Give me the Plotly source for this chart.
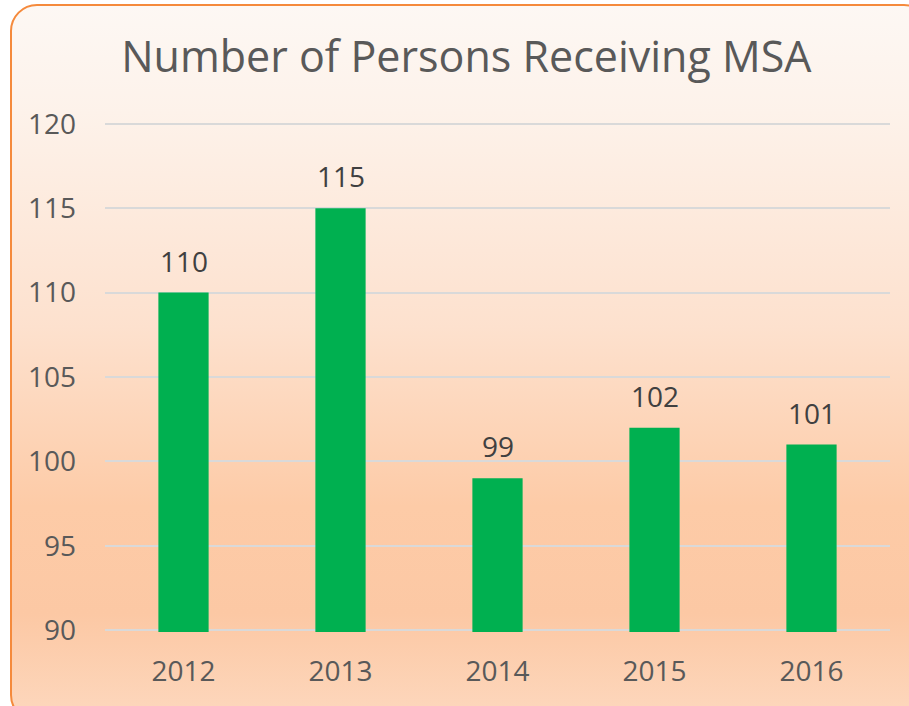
# Bar chart: Number of Persons Receiving MSA
import urllib.parse
import plotly.graph_objects as go

years = ["2012", "2013", "2014", "2015", "2016"]
persons = [110, 115, 99, 102, 101]
y_ticks = [90, 95, 100, 105, 110, 115, 120]

W, H = 909, 706
ml, mr, mt, mb = 105, 19, 122, 74
pw, ph = W - ml - mr, H - mt - mb

# rounded card with orange border and peach gradient, drawn as an inline svg
bg_svg = f"""<svg xmlns='http://www.w3.org/2000/svg' width='{W}' height='{H}' viewBox='0 0 {W} {H}'>
<defs><linearGradient id='g' x1='0' y1='0' x2='0' y2='1'>
<stop offset='0' stop-color='#FDF8F4'/>
<stop offset='0.15' stop-color='#FDF2EA'/>
<stop offset='0.45' stop-color='#FDE1CE'/>
<stop offset='0.7' stop-color='#FDCBA7'/>
<stop offset='0.85' stop-color='#FCC8A4'/>
<stop offset='1' stop-color='#FDD8BE'/>
</linearGradient></defs>
<rect x='11' y='5' width='{W + 10}' height='{H + 10}' rx='26' ry='26' fill='url(#g)' stroke='#F58A3C' stroke-width='2'/>
</svg>"""
bg_src = "data:image/svg+xml;charset=utf-8," + urllib.parse.quote(bg_svg)

fig = go.Figure()

fig.add_trace(go.Bar(
    x=years, y=persons,
    marker=dict(color="#00B050", line=dict(width=0)),
    width=0.32,
    hoverinfo="x+y",
))

# value labels above the bars (x given as category index: "2012" would be read as index 2012)
for i, v in enumerate(persons):
    fig.add_annotation(
        x=i, y=v, text=str(v), showarrow=False,
        yanchor="bottom", yshift=11,
        font=dict(family="Open Sans", size=28, color="#404040"),
    )

fig.add_layout_image(
    source=bg_src, xref="paper", yref="paper",
    x=-ml / pw, y=1 + mt / ph, sizex=W / pw, sizey=H / ph,
    xanchor="left", yanchor="top", sizing="stretch", layer="below",
)

fig.update_layout(
    width=W, height=H,
    margin=dict(l=ml, r=mr, t=mt, b=mb),
    paper_bgcolor="white",
    plot_bgcolor="rgba(0,0,0,0)",
    showlegend=False,
    title=dict(
        text="Number of Persons Receiving MSA",
        x=0.513, xref="container", xanchor="center",
        y=1 - 57 / H, yref="container", yanchor="middle",
        font=dict(family="Open Sans", size=43, color="#595959"),
    ),
    xaxis=dict(
        type="category", range=[-0.5, len(years) - 0.5],
        showgrid=False, showline=False, zeroline=False, ticks="",
        tickfont=dict(family="Open Sans", size=28, color="#595959"),
        ticklabelstandoff=20,
    ),
    yaxis=dict(
        range=[89.9, 120.1], tickvals=y_ticks,
        showgrid=True, gridcolor="#D9D9D9", gridwidth=2,
        showline=False, zeroline=False, ticks="",
        tickfont=dict(family="Open Sans", size=28, color="#595959"),
        ticklabelstandoff=28,
    ),
)

# the page body has a default 8px margin; drop it so the figure sits at 0,0
fig.write_html(
    "out.html",
    config={"displayModeBar": False},
    post_script="document.body.style.margin='0';",
)
